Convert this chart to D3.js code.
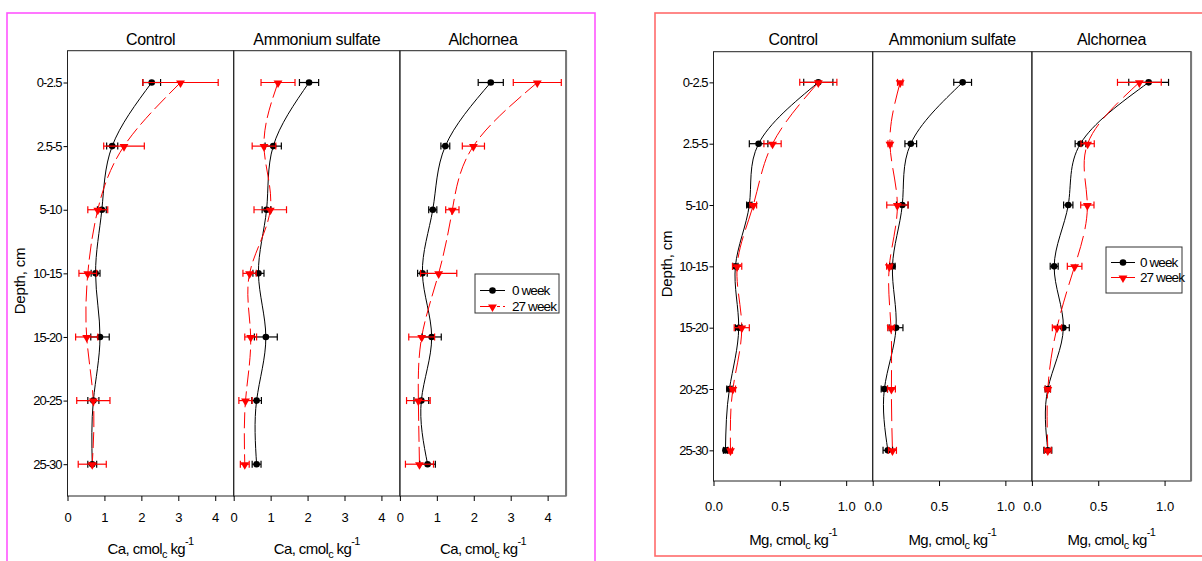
<!DOCTYPE html>
<html>
<head>
<meta charset="utf-8">
<script src="https://cdn.jsdelivr.net/npm/d3@7"></script>
<style>
  html, body { margin: 0; padding: 0; background: #fff; }
  svg { display: block; }
  text { font-family: "Liberation Sans", Arial, sans-serif; fill: #000; }
</style>
</head>
<body>
<svg id="chart" width="1202" height="561"></svg>
<script>
// ---------------- DATA ----------------
const depthLabels = ["0-2.5", "2.5-5", "5-10", "10-15", "15-20", "20-25", "25-30"];
const treatments = ["Control", "Ammonium sulfate", "Alchornea"];
const seriesNames = ["0 week", "27 week"];
const caTicks = [0, 1, 2, 3, 4];
const mgTicks = [0, 0.5, 1.0];

// Ca, cmolc/kg  (0 week and 27 week, with error half-widths)
const caControl0 = [2.28, 1.21, 0.93, 0.76, 0.88, 0.70, 0.67];
const caControl0Err = [0.24, 0.15, 0.12, 0.12, 0.25, 0.15, 0.12];
const caControl27 = [3.06, 1.53, 0.82, 0.55, 0.52, 0.70, 0.67];
const caControl27Err = [1.02, 0.55, 0.27, 0.24, 0.30, 0.45, 0.38];
const caAmmonium0 = [2.04, 1.07, 0.89, 0.67, 0.87, 0.62, 0.62];
const caAmmonium0Err = [0.26, 0.22, 0.12, 0.15, 0.31, 0.13, 0.12];
const caAmmonium27 = [1.20, 0.82, 0.99, 0.43, 0.46, 0.32, 0.30];
const caAmmonium27Err = [0.46, 0.32, 0.44, 0.18, 0.16, 0.18, 0.12];
const caAlchornea0 = [2.46, 1.23, 0.89, 0.61, 0.86, 0.58, 0.75];
const caAlchornea0Err = [0.34, 0.12, 0.11, 0.13, 0.26, 0.20, 0.21];
const caAlchornea27 = [3.72, 1.99, 1.42, 1.05, 0.59, 0.50, 0.53];
const caAlchornea27Err = [0.65, 0.30, 0.18, 0.49, 0.35, 0.32, 0.38];

// Mg, cmolc/kg
const mgControl0 = [0.79, 0.34, 0.27, 0.165, 0.19, 0.12, 0.09];
const mgControl0Err = [0.11, 0.07, 0.02, 0.02, 0.025, 0.02, 0.015];
const mgControl27 = [0.79, 0.445, 0.30, 0.178, 0.213, 0.146, 0.128];
const mgControl27Err = [0.14, 0.065, 0.025, 0.035, 0.057, 0.02, 0.015];
const mgAmmonium0 = [0.678, 0.287, 0.223, 0.149, 0.176, 0.088, 0.114];
const mgAmmonium0Err = [0.067, 0.044, 0.044, 0.02, 0.052, 0.024, 0.036];
const mgAmmonium27 = [0.207, 0.13, 0.186, 0.125, 0.138, 0.141, 0.149];
const mgAmmonium27Err = [0.02, 0.015, 0.08, 0.02, 0.025, 0.03, 0.03];
const mgAlchornea0 = [0.88, 0.366, 0.274, 0.168, 0.237, 0.12, 0.12];
const mgAlchornea0Err = [0.15, 0.04, 0.035, 0.03, 0.045, 0.02, 0.03];
const mgAlchornea27 = [0.81, 0.42, 0.418, 0.322, 0.189, 0.12, 0.12];
const mgAlchornea27Err = [0.165, 0.05, 0.05, 0.055, 0.035, 0.02, 0.025];

// ---------------- DRAW ----------------
const svg = d3.select("#chart");
svg.append("rect").attr("width", 1202).attr("height", 561).attr("fill", "#fff");

function makePoints(vals, errs) {
  return vals.map((v, i) => ({ depth: depthLabels[i], v: v, e: errs[i] }));
}

function drawFigure(cfg) {
  const g = svg.append("g");
  // outer border
  g.append("rect")
    .attr("x", cfg.border[0]).attr("y", cfg.border[1])
    .attr("width", cfg.border[2]).attr("height", cfg.border[3])
    .attr("fill", "none").attr("stroke", cfg.borderColor).attr("stroke-width", 1.6);

  const y = d3.scalePoint().domain(depthLabels).range([cfg.top, cfg.bottom]).padding(0.5);

  cfg.panels.forEach((p, pi) => {
    const x0 = cfg.left + pi * cfg.pw;
    const x = d3.scaleLinear().domain(cfg.domain).range([x0, x0 + cfg.pw]);
    const pg = g.append("g");

    // frame
    pg.append("rect").attr("x", x0).attr("y", cfg.top)
      .attr("width", cfg.pw).attr("height", cfg.bottom - cfg.top)
      .attr("fill", "none").attr("stroke", "#222").attr("stroke-width", 1);
    if (pi === 2) {
      pg.append("line").attr("x1", x0 + cfg.pw).attr("x2", x0 + cfg.pw)
        .attr("y1", cfg.top).attr("y2", cfg.bottom)
        .attr("stroke", "#777").attr("stroke-width", 2);
    }

    // title
    pg.append("text").attr("x", x0 + cfg.pw / 2).attr("y", cfg.titleY)
      .attr("text-anchor", "middle").attr("font-size", 16)
      .attr("letter-spacing", "-0.35px").text(treatments[pi]);

    // x axis
    const xa = pg.append("g").attr("transform", `translate(0,${cfg.bottom})`)
      .call(d3.axisBottom(x).tickValues(cfg.ticks).tickFormat(cfg.fmt).tickSize(5).tickSizeOuter(0));
    xa.select(".domain").remove();
    xa.selectAll(".tick line").attr("stroke", "#000");
    xa.selectAll(".tick text").attr("font-size", 13).attr("font-family", "Liberation Sans, Arial, sans-serif")
      .attr("y", cfg.tickLabelOffset).attr("dy", 0).attr("fill", "#000");

    // axis title
    const at = pg.append("text").attr("x", x0 + cfg.pw / 2).attr("y", cfg.axisTitleY)
      .attr("text-anchor", "middle").attr("font-size", 15).attr("letter-spacing", "-0.6px");
    at.append("tspan").text(cfg.element + ", cmol");
    at.append("tspan").attr("font-size", 11).attr("dy", 4).text("c");
    at.append("tspan").attr("dy", -4).text(" kg");
    at.append("tspan").attr("font-size", 11).attr("dy", -9).text("-1");

    // y axis (labels only on first panel)
    const ya = pg.append("g").attr("transform", `translate(${x0},0)`)
      .call(d3.axisLeft(y).tickSize(pi === 0 ? 4 : 0).tickPadding(2).tickSizeOuter(0));
    ya.select(".domain").remove();
    ya.selectAll(".tick line").attr("stroke", "#000");
    if (pi === 0) {
      ya.selectAll(".tick text").attr("font-size", 13).attr("letter-spacing", "-1px")
        .attr("font-family", "Liberation Sans, Arial, sans-serif").attr("fill", "#000");
    } else {
      ya.selectAll(".tick text").remove();
    }

    const line = d3.line().x(d => x(d.v)).y(d => y(d.depth)).curve(d3.curveNatural);

    const series = [
      { pts: makePoints(p.v0, p.e0), color: "#000", dash: null, marker: "circle" },
      { pts: makePoints(p.v27, p.e27), color: "#ff0000", dash: cfg.dash, marker: "tri" }
    ];

    series.forEach(s => {
      pg.append("path").attr("d", line(s.pts)).attr("fill", "none")
        .attr("stroke", s.color).attr("stroke-width", 1)
        .attr("stroke-dasharray", s.dash);
    });
    series.forEach(s => {
      const eb = pg.append("g").attr("stroke", s.color).attr("stroke-width", 1.2);
      s.pts.forEach(d => {
        const yy = y(d.depth);
        eb.append("line").attr("x1", x(d.v - d.e)).attr("x2", x(d.v + d.e)).attr("y1", yy).attr("y2", yy);
        eb.append("line").attr("x1", x(d.v - d.e)).attr("x2", x(d.v - d.e)).attr("y1", yy - 3.5).attr("y2", yy + 3.5);
        eb.append("line").attr("x1", x(d.v + d.e)).attr("x2", x(d.v + d.e)).attr("y1", yy - 3.5).attr("y2", yy + 3.5);
      });
      s.pts.forEach(d => drawMarker(pg, s.marker, x(d.v), y(d.depth), s.color));
    });
  });

  // depth label
  svg.append("text")
    .attr("transform", `translate(${cfg.depthX},${cfg.depthY}) rotate(-90)`)
    .attr("text-anchor", "middle").attr("font-size", 15).attr("letter-spacing", "-0.2px")
    .text("Depth, cm");

  // legend
  const L = cfg.legend;
  const lg = svg.append("g");
  lg.append("rect").attr("x", L.x).attr("y", L.y).attr("width", L.w).attr("height", L.h)
    .attr("fill", "#fff").attr("stroke", "#333").attr("stroke-width", 1);
  seriesNames.forEach((name, i) => {
    const yy = L.rows[i];
    const color = i === 0 ? "#000" : "#ff0000";
    lg.append("line").attr("x1", L.lx1).attr("x2", L.lx2).attr("y1", yy).attr("y2", yy)
      .attr("stroke", color).attr("stroke-width", 1)
      .attr("stroke-dasharray", i === 0 ? null : L.dash);
    drawMarker(lg, i === 0 ? "circle" : "tri", (L.lx1 + L.lx2) / 2, yy, color);
    lg.append("text").attr("x", L.tx).attr("y", yy + 4.5).attr("font-size", 13.5)
      .attr("letter-spacing", "-0.9px").text(name);
  });
}

function drawMarker(sel, type, cx, cy, color) {
  if (type === "circle") {
    sel.append("circle").attr("cx", cx).attr("cy", cy).attr("r", 3.3).attr("fill", color);
  } else {
    sel.append("path").attr("d", d3.symbol().type(d3.symbolTriangle).size(34)())
      .attr("transform", `translate(${cx},${cy + 0.5}) rotate(180)`).attr("fill", color);
  }
}

drawFigure({
  border: [7, 13, 588, 620], borderColor: "#ff55ff",
  left: 67.5, pw: 166.2, top: 50.7, bottom: 496,
  domain: [0, 4.5], ticks: caTicks, fmt: d3.format("d"),
  tickLabelOffset: 26, axisTitleY: 554, titleY: 45, element: "Ca",
  dash: "16,5",
  depthX: 25, depthY: 281,
  panels: [
    { v0: caControl0, e0: caControl0Err, v27: caControl27, e27: caControl27Err },
    { v0: caAmmonium0, e0: caAmmonium0Err, v27: caAmmonium27, e27: caAmmonium27Err },
    { v0: caAlchornea0, e0: caAlchornea0Err, v27: caAlchornea27, e27: caAlchornea27Err }
  ],
  legend: { x: 475, y: 274, w: 84, h: 39, rows: [290.5, 306.5], lx1: 480, lx2: 505, tx: 512, dash: "14,3,3,3" }
});

drawFigure({
  border: [655, 13, 600, 543], borderColor: "#ff6b6b",
  left: 713.5, pw: 159.2, top: 51.7, bottom: 481,
  domain: [0, 1.2], ticks: mgTicks, fmt: d3.format(".1f"),
  tickLabelOffset: 29.5, axisTitleY: 545, titleY: 45, element: "Mg",
  dash: "22,7",
  depthX: 672, depthY: 264,
  panels: [
    { v0: mgControl0, e0: mgControl0Err, v27: mgControl27, e27: mgControl27Err },
    { v0: mgAmmonium0, e0: mgAmmonium0Err, v27: mgAmmonium27, e27: mgAmmonium27Err },
    { v0: mgAlchornea0, e0: mgAlchornea0Err, v27: mgAlchornea27, e27: mgAlchornea27Err }
  ],
  legend: { x: 1106, y: 247, w: 76, h: 46, rows: [262.5, 277.5], lx1: 1111, lx2: 1135, tx: 1140, dash: null }
});
</script>
</body>
</html>
